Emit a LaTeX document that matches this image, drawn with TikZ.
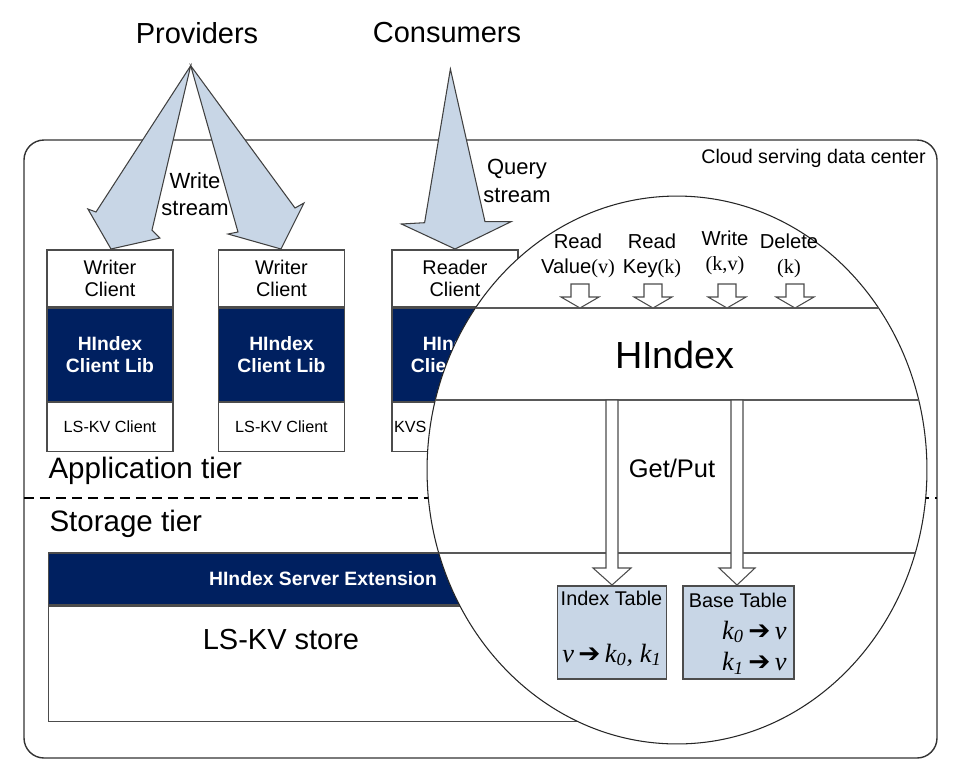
\documentclass[tikz,border=0pt]{standalone}
\usepackage{fontspec}
\setmainfont{Liberation Sans}
\newfontfamily\tnr{Liberation Serif}
\newfontfamily\symf{DejaVu Sans}
\usepackage{tikz}
\usetikzlibrary{positioning}
\definecolor{navy}{RGB}{0,32,96}
\definecolor{streamblue}{RGB}{200,214,230}
\newcommand{\fs}[2]{\fontsize{#1}{#2}\selectfont}
\newcommand{\rarr}{{\symf ➔}}

\begin{document}
\begin{tikzpicture}[x=0.02cm,y=-0.02cm,line width=0.6pt,
	clienttop/.style={draw=black!70,fill=white,minimum width=2.52cm,minimum height=1.14cm,inner sep=0,align=center,font=\fs{11.3}{12.5}},
	libbox/.style={draw=black!70,fill=navy,text=white,minimum width=2.52cm,minimum height=1.86cm,inner sep=0,align=center,font=\fs{11}{13}\bfseries},
	kvbox/.style={draw=black!70,fill=white,minimum width=2.52cm,minimum height=0.98cm,inner sep=0,font=\fs{9.2}{11}},
	streamarrow/.style={draw=black!75,fill=streamblue,line join=miter},
	oplabel/.style={align=center,inner sep=0,font=\fs{11.5}{14}},
	tablebox/.style={draw=black!70,fill=streamblue,minimum height=1.86cm,inner sep=0}]
	\useasboundingbox (0,0) rectangle (953,772);
	\draw[black!80,line width=0.8pt,rounded corners=0.4cm] (24,140) rectangle (937,758);
	\draw[line width=1pt,dash pattern=on 5.7pt off 3.4pt] (24,498) -- (937,498);
	\node[font=\fs{11.2}{13}] (dc) at (813.5,158) {Cloud serving data center};
	\node[font=\fs{16.5}{19}] (prov) at (197,33) {Providers};
	\node[font=\fs{16.5}{19}] (cons) at (447,33) {Consumers};

	% application tier
	\node[clienttop] (w1) at (110,278.5) {Writer\\Client};
	\node[libbox,below=0pt of w1] (w1lib) {HIndex\\Client Lib};
	\node[kvbox,below=0pt of w1lib] (w1kv) {LS-KV Client};
	\node[clienttop] (w2) at (281.5,278.5) {Writer\\Client};
	\node[libbox,below=0pt of w2] (w2lib) {HIndex\\Client Lib};
	\node[kvbox,below=0pt of w2lib] (w2kv) {LS-KV Client};
	\node[clienttop] (rd) at (455,278.5) {Reader\\Client};
	\node[libbox,below=0pt of rd] (rdlib) {HIndex\\Client Lib};
	\node[kvbox,below=0pt of rdlib,text width=2.44cm,align=left] (rdkv) {KVS Client};
	\node[anchor=west,inner sep=0,font=\fs{16.8}{19}] (apptier) at (48,471) {Application tier};
	\node[anchor=west,inner sep=0,font=\fs{16.8}{19}] (sttier) at (49,524) {Storage tier};

	% storage tier
	\node[draw=black!70,fill=navy,text=white,minimum width=11cm,minimum height=1.04cm,inner sep=0,font=\fs{11}{13}\bfseries] (srvext) at (323,579) {HIndex Server Extension};
	\node[draw=black!70,minimum width=11cm,minimum height=2.3cm,inner sep=0,below=0pt of srvext] (store) {};
	\node[font=\fs{16.5}{19}] (storelbl) at (281,640) {LS-KV store};

	% streams
	\draw[streamarrow] (190.7,65.7) -- (152,230) -- (160,238) -- (111,249) -- (87.9,209) -- (96,212) -- cycle;
	\draw[streamarrow] (190.7,65.7) -- (295,208) -- (304,203) -- (281,249) -- (228,234) -- (238,232) -- cycle;
	\draw[streamarrow] (450.4,69) -- (485,221.7) -- (511,221.7) -- (455,249) -- (401.4,224) -- (424.6,222.7) -- cycle;
	\node[align=center,font=\fs{12.5}{15.5}] (wstream) at (195,194) {Write\\stream};
	\node[align=center,font=\fs{12.5}{15.5}] (qstream) at (517,181) {Query\\stream};

	% zoomed view of HIndex
	\draw[black!85,fill=white] (677,470) ellipse [x radius=5cm,y radius=5.48cm];
	\begin{scope}
		\clip (677,470) ellipse [x radius=5cm,y radius=5.48cm];
		\draw[black!65] (400,308) -- (960,308) (400,400) -- (960,400) (400,553) -- (960,553);
	\end{scope}
	\node[oplabel] (rval) at (578,256) {Read\\Value{\tnr(v)}};
	\node[oplabel] (rkey) at (652,256) {Read\\Key{\tnr(k)}};
	\node[oplabel] (wkv) at (725,253) {Write\\{\tnr(k,v)}};
	\node[oplabel] (delk) at (789,256) {Delete\\{\tnr(k)}};
	\foreach \x in {580,653,727,795}
		\draw[black!70,fill=white,line join=miter] (\x-9,284) -- (\x+9,284) -- (\x+9,297) -- (\x+19,297) -- (\x,308) -- (\x-19,297) -- (\x-9,297) -- cycle;
	\node[font=\fs{21.5}{24}] (hindex) at (675,355) {HIndex};
	\node[font=\fs{14.5}{17}] (getput) at (672,468) {Get/Put};
	\draw[black!70,fill=white,line join=miter] (606,400) -- (618,400) -- (618,568) -- (631,568) -- (612,585) -- (593,568) -- (606,568) -- cycle;
	\draw[black!70,fill=white,line join=miter] (731,400) -- (743,400) -- (743,568) -- (755,568) -- (737,585) -- (719,568) -- (731,568) -- cycle;
	\node[tablebox,minimum width=2.18cm] (idx) at (612,632.5) {};
	\node[tablebox,minimum width=2.22cm] (base) at (738.5,632.5) {};
	\node[font=\fs{11.3}{13}] (idxtitle) at (611.5,598) {Index Table};
	\node[font=\fs{11.3}{13}] (basetitle) at (738,600) {Base Table};
	\node[font=\fs{15}{17}\tnr\itshape] (idxmap) at (612,655) {v\,\rarr\,k\textsubscript{0}, k\textsubscript{1}};
	\node[anchor=east,inner sep=0,font=\fs{15}{17}\tnr\itshape] (basemap0) at (787,632) {k\textsubscript{0}\,\rarr\,v};
	\node[anchor=east,inner sep=0,font=\fs{15}{17}\tnr\itshape] (basemap1) at (787,663) {k\textsubscript{1}\,\rarr\,v};
\end{tikzpicture}
\end{document}
